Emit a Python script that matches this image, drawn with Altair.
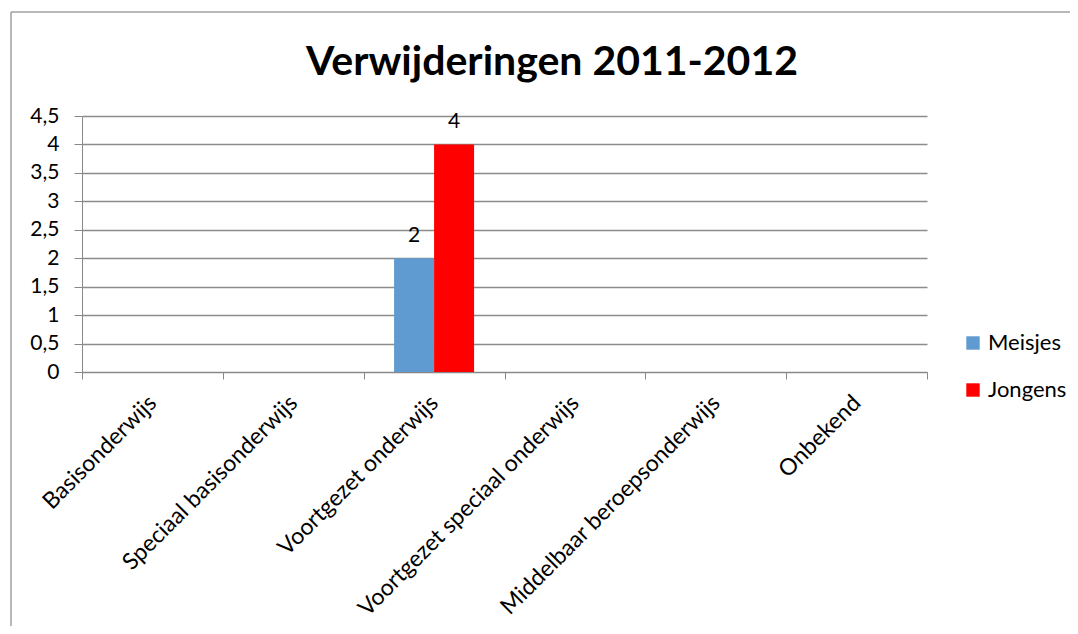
import altair as alt
import pandas as pd

categories = ["Basisonderwijs", "Speciaal basisonderwijs", "Voortgezet onderwijs",
              "Voortgezet speciaal onderwijs", "Middelbaar beroepsonderwijs", "Onbekend"]
meisjes = [0, 0, 2, 0, 0, 0]
jongens = [0, 0, 4, 0, 0, 0]
series = ["Meisjes", "Jongens"]
colors = ["#5f9bd1", "#ff0000"]
y_ticks = [0, 0.5, 1, 1.5, 2, 2.5, 3, 3.5, 4, 4.5]
title_text = "Verwijderingen 2011-2012"

rows = []
for c, m, j in zip(categories, meisjes, jongens):
    rows.append({"cat": c, "serie": "Meisjes", "v": m})
    rows.append({"cat": c, "serie": "Jongens", "v": j})
df = pd.DataFrame(rows)

FONT = "Lato"
W, H = 845, 256

x_axis = alt.Axis(labelAngle=-45, labelFontSize=23, labelFont=FONT, labelColor="#000000",
                  tickBand="extent", tickSize=7, tickColor="#888888", domainColor="#888888",
                  labelPadding=20, labelAlign="right", labelBaseline="middle", grid=False,
                  labelLimit=400, title=None)
y_axis = alt.Axis(values=y_ticks, labelExpr="replace(toString(datum.value), '.', ',')",
                  labelFontSize=21, labelFont=FONT, labelColor="#000000",
                  tickSize=8, tickColor="#888888", domainColor="#888888",
                  gridColor="#8c8c8c", gridWidth=1.5, labelPadding=15,
                  labelOverlap=False, title=None)

x_scale = alt.Scale(paddingInner=0, paddingOuter=0)
xo_enc = alt.XOffset("serie:N", sort=series, scale=alt.Scale(paddingOuter=0.76, paddingInner=0))
y_scale = alt.Scale(domain=[0, 4.5], nice=False)

bars = alt.Chart(df).mark_bar().encode(
    x=alt.X("cat:N", sort=categories, scale=x_scale, axis=x_axis),
    xOffset=xo_enc,
    y=alt.Y("v:Q", scale=y_scale, axis=y_axis),
    color=alt.Color("serie:N", sort=series, scale=alt.Scale(domain=series, range=colors),
                    legend=alt.Legend(title=None, orient="none", legendX=880, legendY=216,
                                      symbolType="square", symbolSize=180, symbolStrokeWidth=0,
                                      labelFontSize=22, labelFont=FONT, labelColor="#000000",
                                      rowPadding=25, labelOffset=4)),
)

labels = alt.Chart(df).transform_filter("datum.v > 0").mark_text(
    baseline="bottom", dy=-12, fontSize=21, font=FONT, color="#000000"
).encode(
    x=alt.X("cat:N", sort=categories, scale=x_scale, axis=x_axis),
    xOffset=xo_enc,
    y=alt.Y("v:Q", scale=y_scale, axis=y_axis),
    text=alt.Text("v:Q"),
)

frame_data = alt.Data(values=[{"t": title_text}])
frame_left = alt.Chart(frame_data).mark_rule(color="#a0a0a0", strokeWidth=1.5).encode(
    x=alt.value(-71), y=alt.value(-104), y2=alt.value(600))
frame_top = alt.Chart(frame_data).mark_rule(color="#a0a0a0", strokeWidth=1.5).encode(
    x=alt.value(-71), x2=alt.value(1100), y=alt.value(-104))
title = alt.Chart(frame_data).mark_text(
    fontSize=41, font=FONT, fontWeight="bold", color="#000000", baseline="alphabetic", align="center"
).encode(x=alt.value(470), y=alt.value(-41), text="t:N")

chart = alt.layer(bars, labels, frame_left, frame_top, title).properties(
    width=W, height=H,
    background="white",
    autosize=alt.AutoSizeParams(type="none"),
    padding={"left": 74, "top": 108, "right": 143, "bottom": 254},
).configure_view(strokeWidth=0, stroke="transparent")

chart.save("out.html", embed_options={"renderer": "svg", "actions": False})
